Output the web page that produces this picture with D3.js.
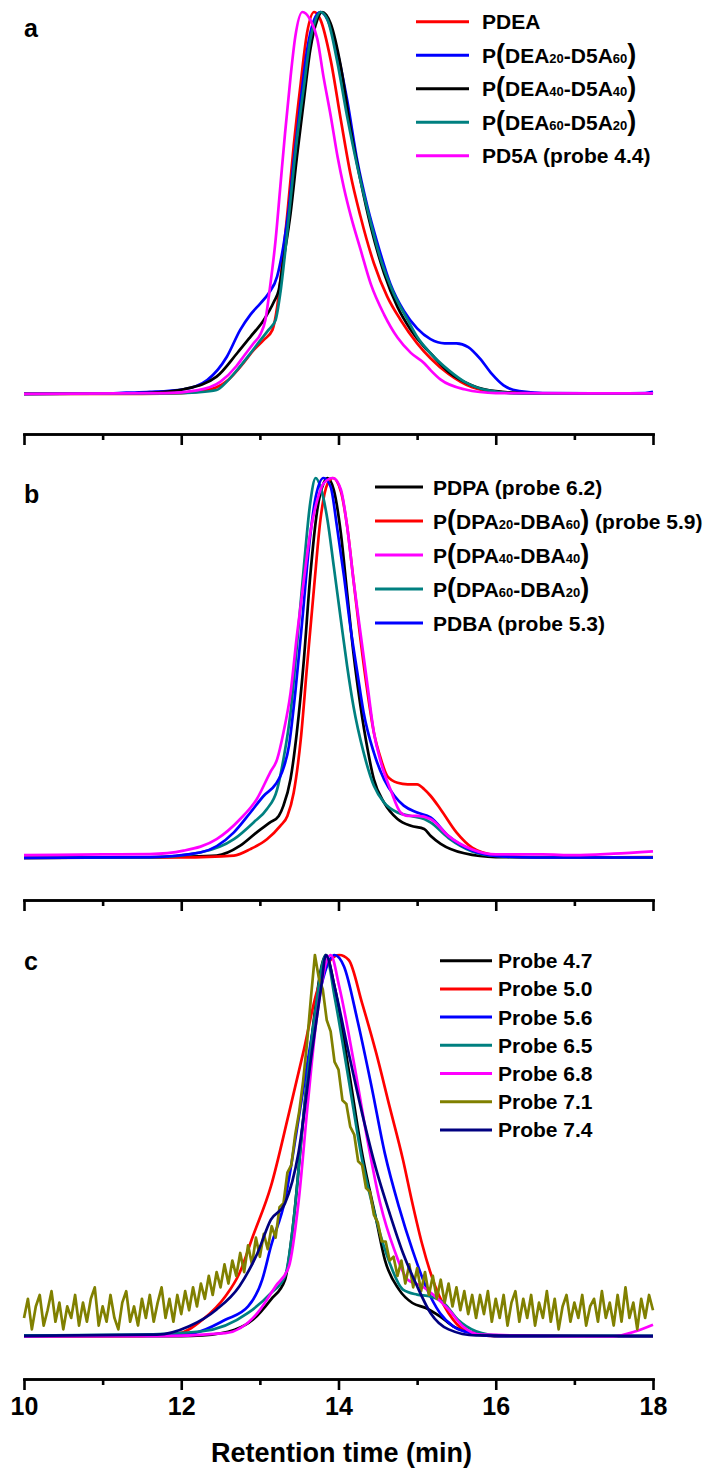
<!DOCTYPE html>
<html>
<head>
<meta charset="utf-8">
<script src="https://cdn.jsdelivr.net/npm/d3@7"></script>
<style>
  html, body { margin: 0; padding: 0; background: #fff; }
  svg { display: block; font-family: "Liberation Sans", Arial, sans-serif; font-weight: bold; }
</style>
</head>
<body>
<svg id="chart" width="707" height="1472"></svg>
<script>
// retention time (min) vs normalised intensity

// ---- panel a
var aPDEA = [[10,0.003],[11.5,0.003],[12.0,0.005],[12.3,0.012],[12.45,0.02],[12.6,0.04],[12.79,0.083],[12.92,0.117],[13.05,0.144],[13.16,0.17],[13.22,0.23],[13.28,0.335],[13.35,0.474],[13.43,0.65],[13.52,0.815],[13.60,0.945],[13.69,1.0],[13.77,0.98],[13.90,0.875],[14.03,0.718],[14.15,0.579],[14.28,0.466],[14.45,0.344],[14.62,0.257],[14.79,0.196],[15.0,0.135],[15.17,0.096],[15.4,0.055],[15.7,0.02],[16.0,0.008],[16.5,0.004],[18,0.004]];
var aDEA20 = [[10,0.003],[11.0,0.004],[11.3,0.006],[11.6,0.008],[12.03,0.015],[12.33,0.039],[12.58,0.10],[12.75,0.17],[12.88,0.21],[13.01,0.24],[13.11,0.265],[13.22,0.31],[13.30,0.39],[13.37,0.49],[13.43,0.61],[13.52,0.77],[13.60,0.90],[13.69,0.98],[13.77,1.0],[13.86,0.98],[13.98,0.90],[14.11,0.77],[14.24,0.61],[14.37,0.49],[14.49,0.40],[14.66,0.29],[14.83,0.22],[15.0,0.174],[15.17,0.146],[15.35,0.135],[15.5,0.135],[15.65,0.125],[15.8,0.095],[15.95,0.055],[16.1,0.025],[16.3,0.01],[16.6,0.005],[17.5,0.004],[17.9,0.005],[18,0.008]];
var aDEA40 = [[10,0.003],[11.3,0.004],[11.7,0.007],[12.03,0.015],[12.45,0.048],[12.71,0.109],[12.88,0.152],[13.05,0.196],[13.18,0.244],[13.24,0.274],[13.30,0.352],[13.39,0.474],[13.47,0.62],[13.56,0.77],[13.64,0.90],[13.73,0.98],[13.79,1.0],[13.90,0.97],[14.03,0.857],[14.15,0.70],[14.28,0.56],[14.41,0.44],[14.58,0.318],[14.75,0.23],[14.92,0.17],[15.09,0.126],[15.17,0.109],[15.4,0.06],[15.7,0.025],[16.0,0.01],[16.5,0.004],[18,0.004]];
var aDEA60 = [[10,0.003],[11.8,0.004],[12.2,0.007],[12.45,0.013],[12.58,0.035],[12.71,0.065],[12.88,0.109],[13.01,0.144],[13.11,0.17],[13.20,0.196],[13.26,0.266],[13.32,0.37],[13.39,0.51],[13.47,0.666],[13.56,0.805],[13.64,0.927],[13.71,0.98],[13.77,1.0],[13.86,0.98],[13.98,0.875],[14.11,0.727],[14.24,0.596],[14.37,0.483],[14.54,0.352],[14.70,0.266],[14.88,0.196],[15.0,0.152],[15.17,0.109],[15.4,0.065],[15.6,0.035],[15.9,0.012],[16.3,0.004],[18,0.004]];
var aPD5A = [[10,0.003],[11.8,0.005],[12.2,0.012],[12.5,0.035],[12.7,0.075],[12.79,0.10],[12.92,0.135],[13.01,0.16],[13.07,0.196],[13.13,0.283],[13.20,0.405],[13.26,0.544],[13.32,0.683],[13.39,0.83],[13.45,0.935],[13.54,1.0],[13.64,0.98],[13.73,0.93],[13.81,0.83],[13.90,0.73],[13.99,0.62],[14.07,0.54],[14.16,0.465],[14.28,0.38],[14.41,0.29],[14.58,0.21],[14.75,0.15],[14.92,0.11],[15.09,0.083],[15.17,0.065],[15.3,0.04],[15.6,0.015],[16.0,0.005],[18,0.004]];

// ---- panel b
var bPDPA = [[10,0.003],[11.5,0.004],[12.0,0.006],[12.45,0.009],[12.75,0.035],[12.96,0.07],[13.13,0.096],[13.24,0.113],[13.30,0.14],[13.39,0.21],[13.47,0.332],[13.56,0.524],[13.64,0.741],[13.73,0.916],[13.81,0.986],[13.86,1.0],[13.94,0.969],[14.03,0.855],[14.11,0.698],[14.19,0.541],[14.28,0.401],[14.37,0.288],[14.45,0.209],[14.58,0.148],[14.75,0.105],[14.92,0.087],[15.09,0.079],[15.17,0.061],[15.3,0.04],[15.6,0.015],[16.0,0.005],[18,0.004]];
var bDPA20 = [[10,0.003],[12.0,0.004],[12.67,0.009],[12.88,0.026],[13.09,0.052],[13.26,0.087],[13.35,0.113],[13.43,0.174],[13.52,0.314],[13.60,0.506],[13.69,0.715],[13.77,0.89],[13.86,0.985],[13.93,1.0],[14.03,0.965],[14.11,0.873],[14.19,0.733],[14.28,0.576],[14.37,0.436],[14.45,0.332],[14.54,0.262],[14.62,0.218],[14.75,0.2],[14.88,0.196],[15.0,0.196],[15.09,0.183],[15.17,0.166],[15.3,0.13],[15.5,0.07],[15.7,0.03],[16.0,0.01],[16.5,0.004],[18,0.005]];
var bDPA40 = [[10,0.01],[11.0,0.012],[11.6,0.013],[12.03,0.022],[12.45,0.052],[12.75,0.105],[12.96,0.157],[13.13,0.227],[13.22,0.262],[13.30,0.332],[13.39,0.436],[13.47,0.585],[13.56,0.733],[13.64,0.855],[13.73,0.942],[13.81,0.986],[13.93,1.0],[14.03,0.97],[14.11,0.873],[14.19,0.733],[14.28,0.593],[14.37,0.454],[14.45,0.332],[14.54,0.253],[14.66,0.183],[14.79,0.122],[14.88,0.113],[15.0,0.113],[15.17,0.105],[15.4,0.06],[15.7,0.025],[16.0,0.012],[16.6,0.012],[17.0,0.01],[17.5,0.014],[18,0.02]];
var bDPA60 = [[10,0.003],[11.6,0.004],[12.24,0.017],[12.67,0.052],[12.92,0.096],[13.09,0.131],[13.22,0.183],[13.30,0.262],[13.39,0.384],[13.47,0.558],[13.56,0.768],[13.64,0.934],[13.71,1.0],[13.77,0.977],[13.86,0.89],[13.94,0.768],[14.03,0.628],[14.11,0.506],[14.19,0.401],[14.32,0.279],[14.45,0.192],[14.58,0.148],[14.75,0.122],[14.92,0.113],[15.09,0.105],[15.17,0.096],[15.4,0.055],[15.7,0.02],[16.0,0.008],[16.5,0.004],[18,0.004]];
var bPDBA = [[10,0.003],[11.6,0.005],[12.24,0.017],[12.67,0.07],[12.88,0.122],[13.05,0.166],[13.20,0.196],[13.28,0.227],[13.37,0.297],[13.45,0.436],[13.54,0.628],[13.62,0.81],[13.71,0.95],[13.81,1.0],[13.90,0.977],[13.98,0.873],[14.07,0.742],[14.15,0.611],[14.24,0.489],[14.32,0.384],[14.45,0.279],[14.58,0.209],[14.71,0.166],[14.83,0.14],[15.0,0.122],[15.17,0.109],[15.4,0.06],[15.7,0.022],[16.0,0.008],[16.5,0.004],[18,0.004]];

// ---- panel c
var cP47 = [[10,0.002],[12.0,0.002],[12.27,0.004],[12.68,0.019],[12.91,0.045],[13.14,0.098],[13.32,0.15],[13.43,0.307],[13.55,0.568],[13.66,0.786],[13.84,1.0],[13.95,0.917],[14.13,0.699],[14.30,0.481],[14.48,0.307],[14.59,0.202],[14.77,0.124],[14.94,0.089],[15.11,0.076],[15.29,0.054],[15.46,0.028],[15.75,0.01],[16.04,0.002],[18,0.002]];
var cP50 = [[10,0.002],[11.5,0.003],[11.98,0.01],[12.27,0.045],[12.56,0.106],[12.74,0.167],[12.91,0.263],[13.14,0.394],[13.37,0.586],[13.55,0.743],[13.72,0.90],[13.90,0.987],[14.01,1.0],[14.13,0.987],[14.30,0.874],[14.48,0.743],[14.65,0.603],[14.82,0.464],[14.94,0.35],[15.06,0.246],[15.23,0.133],[15.46,0.045],[15.63,0.015],[15.92,0.003],[18,0.002]];
var cP56 = [[10,0.002],[11.8,0.004],[12.16,0.01],[12.56,0.045],[12.85,0.08],[13.03,0.15],[13.14,0.237],[13.32,0.359],[13.49,0.568],[13.66,0.786],[13.81,0.943],[13.95,1.0],[14.07,0.97],[14.24,0.83],[14.42,0.656],[14.59,0.48],[14.77,0.34],[14.94,0.228],[15.11,0.133],[15.29,0.063],[15.46,0.028],[15.69,0.01],[16.04,0.002],[18,0.002]];
var cP65 = [[10,0.004],[11.4,0.006],[12.27,0.015],[12.85,0.063],[13.14,0.115],[13.32,0.159],[13.43,0.307],[13.55,0.568],[13.69,0.83],[13.84,1.0],[13.95,0.891],[14.13,0.673],[14.30,0.464],[14.48,0.307],[14.65,0.194],[14.82,0.124],[15.0,0.111],[15.17,0.106],[15.34,0.089],[15.52,0.045],[15.75,0.015],[16.04,0.004],[18,0.003]];
var cP68 = [[10,0.002],[11.69,0.002],[12.56,0.01],[12.97,0.063],[13.20,0.133],[13.37,0.185],[13.49,0.35],[13.61,0.612],[13.72,0.83],[13.90,1.0],[14.01,0.917],[14.19,0.725],[14.36,0.525],[14.53,0.35],[14.71,0.228],[14.88,0.15],[15.06,0.133],[15.23,0.106],[15.40,0.072],[15.58,0.028],[15.81,0.006],[17.49,0.002],[17.78,0.015],[18.0,0.032]];
var cP74 = [[10,0.003],[11.69,0.006],[12.10,0.028],[12.45,0.072],[12.74,0.133],[12.97,0.22],[13.14,0.307],[13.32,0.35],[13.49,0.481],[13.66,0.743],[13.78,0.917],[13.84,1.0],[13.95,0.917],[14.13,0.743],[14.30,0.586],[14.48,0.438],[14.65,0.324],[14.82,0.22],[15.0,0.133],[15.17,0.063],[15.40,0.02],[15.75,0.004],[18,0.003]];
// probe 7.1 is noisy: one reading every 0.05 min from 10 to 18
var cP71vals = [
  0.05,0.10,0.02,0.08,0.11,0.03,0.07,0.12,0.04,0.09,
  0.02,0.08,0.05,0.11,0.03,0.09,0.04,0.10,0.13,0.03,
  0.08,0.04,0.11,0.05,0.02,0.09,0.12,0.04,0.08,0.03,
  0.10,0.05,0.11,0.04,0.09,0.13,0.05,0.10,0.04,0.11,
  0.06,0.12,0.07,0.13,0.08,0.14,0.10,0.16,0.11,0.17,
  0.13,0.19,0.14,0.20,0.16,0.22,0.17,0.24,0.19,0.26,
  0.21,0.27,0.23,0.29,0.26,0.34,0.35,0.43,0.45,0.53,
  0.59,0.67,0.77,0.89,1.00,0.94,0.91,0.83,0.80,0.72,
  0.70,0.62,0.61,0.55,0.53,0.46,0.45,0.39,0.38,0.32,
  0.30,0.25,0.25,0.20,0.21,0.16,0.20,0.14,0.19,0.13,
  0.18,0.12,0.17,0.11,0.16,0.10,0.15,0.09,0.14,0.08,
  0.13,0.07,0.12,0.06,0.11,0.05,0.11,0.06,0.12,0.04,
  0.10,0.05,0.11,0.03,0.09,0.12,0.04,0.10,0.05,0.11,
  0.03,0.09,0.05,0.12,0.04,0.10,0.02,0.08,0.11,0.04,
  0.09,0.05,0.11,0.03,0.08,0.10,0.04,0.12,0.05,0.09,
  0.03,0.11,0.04,0.13,0.05,0.09,0.02,0.10,0.05,0.11,
  0.07];
var cP71 = cP71vals.map(function (v, i) { return [10 + i * 0.05, v]; });

// legend text: {..} = subscript, [ ] = tall brackets
var aNames = ["PDEA", "P[DEA{20}-D5A{60}]", "P[DEA{40}-D5A{40}]", "P[DEA{60}-D5A{20}]", "PD5A (probe 4.4)"];
var bNames = ["PDPA (probe 6.2)", "P[DPA{20}-DBA{60}] (probe 5.9)", "P[DPA{40}-DBA{40}]", "P[DPA{60}-DBA{20}]", "PDBA (probe 5.3)"];
var cNames = ["Probe 4.7", "Probe 5.0", "Probe 5.6", "Probe 6.5", "Probe 6.8", "Probe 7.1", "Probe 7.4"];
var aColors = ["#ff0000", "#0000ff", "#000000", "#008080", "#ff00ff"];
var bColors = ["#000000", "#ff0000", "#ff00ff", "#008080", "#0000ff"];
var cColors = ["#000000", "#ff0000", "#0000ff", "#008080", "#ff00ff", "#808000", "#000080"];
var aData = [aPDEA, aDEA20, aDEA40, aDEA60, aPD5A];
var bData = [bPDPA, bDPA20, bDPA40, bDPA60, bPDBA];
var cData = [cP47, cP50, cP56, cP65, cP68, cP71, cP74];
var majorTicks = [10, 12, 14, 16, 18];
var minorTicks = [11, 13, 15, 17];

var panels = [
  { tag: "a", names: aNames, colors: aColors, data: aData, order: [0, 1, 2, 3, 4],
    base: 395, top: 12, axisY: 434, tagY: 37,
    leg: { x1: 416, x2: 469, tx: 482, y0: 21.7, dy: 33.5 } },
  { tag: "b", names: bNames, colors: bColors, data: bData, order: [0, 1, 3, 4, 2],
    base: 859, top: 478, axisY: 900, tagY: 503,
    leg: { x1: 375, x2: 423, tx: 433, y0: 487, dy: 34 } },
  { tag: "c", names: cNames, colors: cColors, data: cData, order: [0, 1, 2, 3, 4, 5, 6],
    base: 1337, top: 955, axisY: 1379, tagY: 970, labels: true,
    leg: { x1: 440, x2: 492, tx: 498, y0: 960.7, dy: 28.2 } }
];

var svg = d3.select("#chart");
var x = d3.scaleLinear().domain([10, 18]).range([24, 653]);

function writeLabel(text, label) {
  var re = /\{([^}]*)\}|\[|\]|[^{\[\]]+/g, m;
  while ((m = re.exec(label))) {
    if (m[1] !== undefined) text.append("tspan").attr("font-size", 13).text(m[1]);
    else if (m[0] === "[") text.append("tspan").attr("font-size", 27).text("(");
    else if (m[0] === "]") text.append("tspan").attr("font-size", 27).text(")");
    else text.append("tspan").text(m[0]);
  }
}

panels.forEach(function (p) {
  var g = svg.append("g");
  var y = d3.scaleLinear().domain([0, 1]).range([p.base, p.top]);
  var line = d3.line()
    .x(function (d) { return x(d[0]); })
    .y(function (d) { return y(d[1]); })
    .curve(d3.curveMonotoneX);
  var rough = d3.line()
    .x(function (d) { return x(d[0]); })
    .y(function (d) { return y(d[1]); });

  p.order.forEach(function (i) {
    g.append("path")
      .datum(p.data[i])
      .attr("fill", "none")
      .attr("stroke", p.colors[i])
      .attr("stroke-width", 2.7)
      .attr("stroke-linejoin", "round")
      .attr("d", p.data[i] === cP71 ? rough : line);
  });

  // axis with major and minor ticks
  var major = d3.axisBottom(x).tickValues(majorTicks).tickSize(11).tickSizeOuter(0).tickPadding(7)
    .tickFormat(p.labels ? d3.format("d") : "");
  var minor = d3.axisBottom(x).tickValues(minorTicks).tickSize(6).tickSizeOuter(0).tickFormat("");
  var ax = g.append("g").attr("transform", "translate(0," + p.axisY + ")").call(major);
  var axm = g.append("g").attr("transform", "translate(0," + p.axisY + ")").call(minor);
  [ax, axm].forEach(function (a) {
    a.selectAll("path, line").attr("stroke", "#000").attr("stroke-width", 2.6);
    a.select(".domain").attr("stroke-linecap", "square");
  });
  ax.selectAll("text").attr("fill", "#000").attr("font-size", 25)
    .attr("font-family", "Liberation Sans, Arial, sans-serif").attr("font-weight", "bold");

  g.append("text").attr("x", 24).attr("y", p.tagY).attr("font-size", 25).text(p.tag);

  var lg = g.append("g");
  p.names.forEach(function (name, i) {
    var ly = p.leg.y0 + i * p.leg.dy;
    lg.append("line").attr("x1", p.leg.x1).attr("x2", p.leg.x2).attr("y1", ly).attr("y2", ly)
      .attr("stroke", p.colors[i]).attr("stroke-width", 3);
    var t = lg.append("text").attr("x", p.leg.tx).attr("y", ly + 7.5).attr("font-size", 21);
    writeLabel(t, name);
  });
});

svg.append("text")
  .attr("x", x(14) + 3).attr("y", 1462)
  .attr("text-anchor", "middle")
  .attr("font-size", 27)
  .text("Retention time (min)");
</script>
</body>
</html>
